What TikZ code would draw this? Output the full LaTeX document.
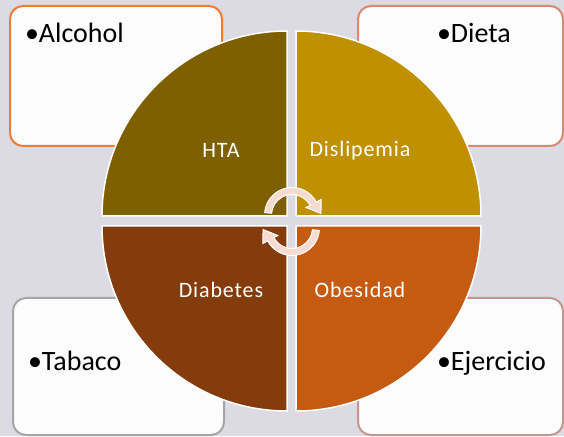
\documentclass[tikz,border=0pt]{standalone}
\usepackage{fontspec}
\setmainfont{Carlito}
\newfontfamily\labelfont[LetterSpace=4]{Carlito}
\usepackage{tikz}
\usetikzlibrary{calc, positioning}
\definecolor{slidebg}{rgb}{0.863, 0.855, 0.890}
\definecolor{boxfill}{rgb}{0.988, 0.988, 0.988}
\definecolor{goldfifty}{rgb}{0.498, 0.376, 0}
\definecolor{goldquarter}{rgb}{0.749, 0.565, 0}
\definecolor{orangefifty}{rgb}{0.518, 0.235, 0.047}
\definecolor{orangequarter}{rgb}{0.773, 0.353, 0.067}
\definecolor{edgeorange}{rgb}{0.929, 0.490, 0.192}
\definecolor{edgesalmon}{rgb}{0.851, 0.533, 0.443}
\definecolor{edgegrey}{rgb}{0.647, 0.647, 0.647}
\definecolor{edgerose}{rgb}{0.765, 0.592, 0.565}
\definecolor{arrowpink}{rgb}{0.973, 0.859, 0.816}

\begin{document}
\begin{tikzpicture}[x=1pt, y=1pt]
    \fill[slidebg] (0,0) rectangle (564,436);
    \useasboundingbox (0,0) rectangle (564,436);
    \begin{scope}[every node/.style = {inner sep=0pt, outer sep=0pt}]
        % corner boxes
        \node[draw=edgeorange, fill=boxfill, line width=2pt, rounded corners=13pt, anchor=south west,
              minimum width=212pt, minimum height=140pt] (B1) at (10,290) {};
        \node[draw=edgesalmon, fill=boxfill, line width=2pt, rounded corners=13pt, anchor=south west,
              minimum width=205pt, minimum height=140pt] (B2) at (358,290) {};
        \node[draw=edgegrey, fill=boxfill, line width=2pt, rounded corners=13pt, anchor=south west,
              minimum width=211pt, minimum height=137pt] (B3) at (13,1) {};
        \node[draw=edgerose, fill=boxfill, line width=2pt, rounded corners=13pt, anchor=south west,
              minimum width=205pt, minimum height=137pt] (B4) at (358,1) {};
        \foreach \n/\px/\py/\txt in {1/25/393/Alcohol, 2/437/393/Dieta, 3/28/66/Tabaco, 4/437/66/Ejercicio}{
            \node[anchor=base west, font=\fontsize{28}{30}\selectfont] (T\n) at (\px,\py) {•\txt};
        }
        % quadrants
        \foreach \n/\cx/\cy/\ang/\col in {1/287/220/90/goldfifty, 2/296/220/0/goldquarter,
                                          3/287/210/180/orangefifty, 4/296/210/270/orangequarter}{
            \filldraw[fill=\col, draw=white, line width=1.5pt] (\cx,\cy) -- ++(\ang:185) arc (\ang:\ang+90:185) -- cycle;
        }
        \foreach \n/\px/\py/\txt in {1/221/278.7/HTA, 2/360/279.3/Dislipemia, 3/221/138.7/Diabetes, 4/360/138.7/Obesidad}{
            \node[anchor=base, text=white, font=\labelfont\fontsize{22}{24}\selectfont] (Q\n) at (\px,\py) {\txt};
        }
        % cycle arrows
        \foreach \cy/\rot in {221/0, 208/180}{
            \begin{scope}[shift={(292,\cy)}, rotate=\rot]
                \filldraw[fill=arrowpink, draw=white, line width=1pt]
                    (175:27.5) arc (175:28:27.5) -- (28:33) -- (3:29) -- (28:16) -- (28:20.5) arc (28:175:20.5) -- cycle;
            \end{scope}
        }
    \end{scope}
\end{tikzpicture}
\end{document}
